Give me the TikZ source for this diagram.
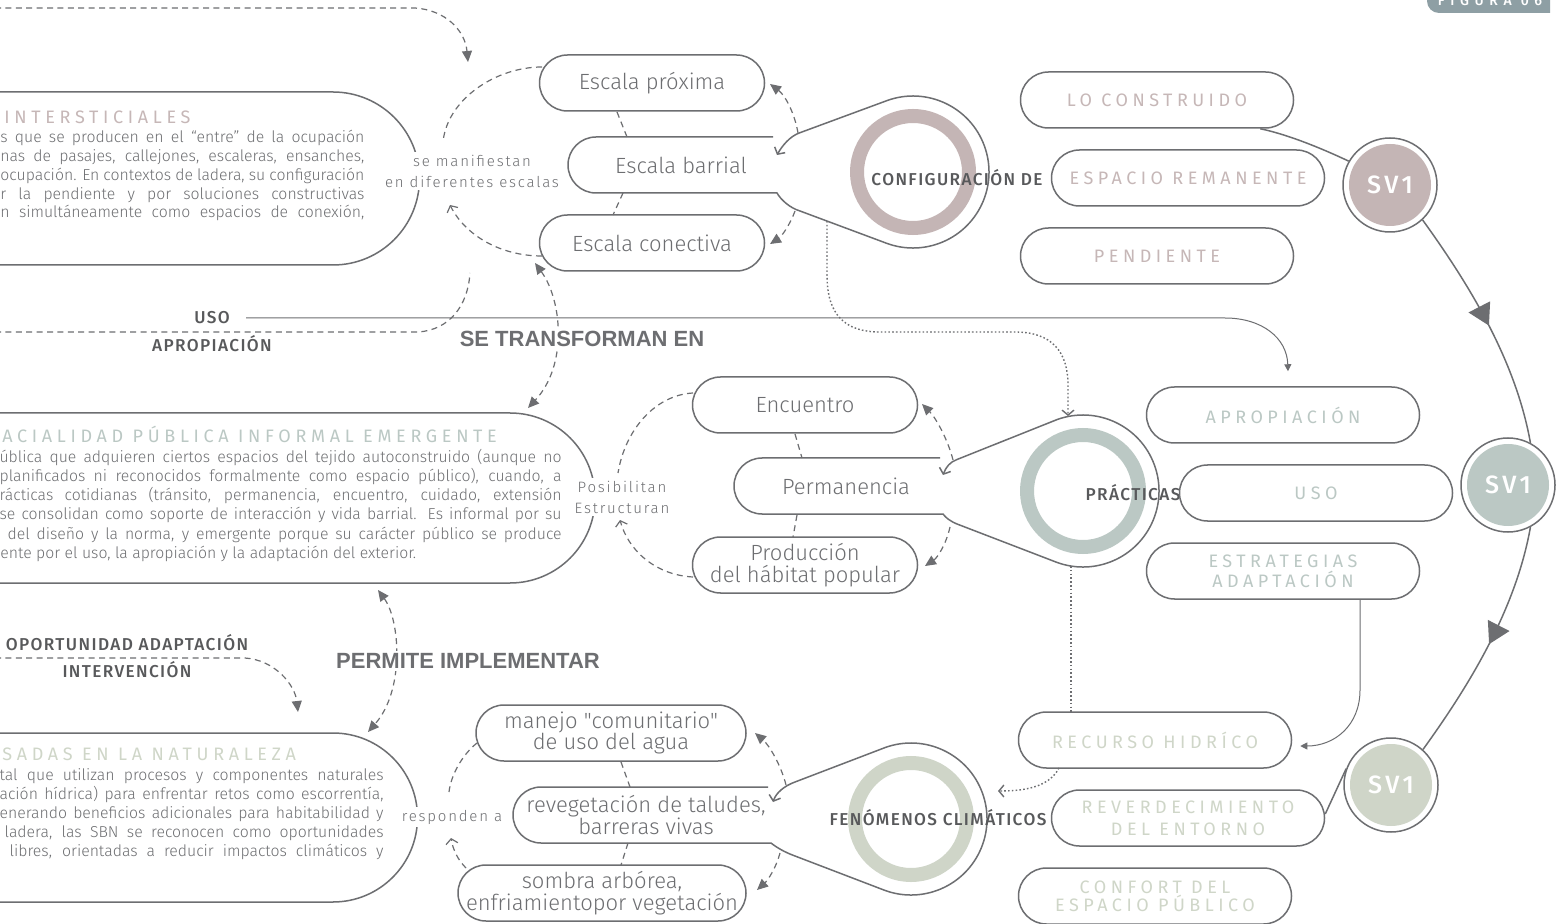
\documentclass[tikz,border=0pt]{standalone}
\usepackage{fontspec}
\usetikzlibrary{arrows.meta,decorations.markings}
\IfFontExistsTF{Fira Sans Light}{\newfontfamily\fl{Fira Sans Light}}{\newfontfamily\fl{Fira Sans}}
\IfFontExistsTF{Fira Sans Medium}{\newfontfamily\fm{Fira Sans Medium}}{\newfontfamily\fm{Fira Sans}}
\newfontfamily\fr{Fira Sans}
\newfontfamily\arl{Liberation Sans}
\definecolor{lg}{HTML}{6D6E71}
\definecolor{tx}{HTML}{6D6E71}
\definecolor{dk}{HTML}{58595B}
\definecolor{pkt}{HTML}{C6B7B7}
\definecolor{sgt}{HTML}{BBC8C4}
\definecolor{olt}{HTML}{CFD6C8}
\definecolor{pkf}{HTML}{C4B5B5}
\definecolor{sgf}{HTML}{BBC8C4}
\definecolor{olf}{HTML}{CFD5C8}
\definecolor{tabc}{HTML}{8E9FA4}
\tikzset{
  ln/.style={draw=lg, line width=0.75pt},
  thinl/.style={draw=lg, line width=0.5pt},
  dsh/.style={draw=lg, line width=0.6pt, dash pattern=on 3pt off 2.2pt},
  dotl/.style={draw=lg, line width=0.7pt, dash pattern=on 0.8pt off 1.1pt},
  fa/.style={-{Triangle[length=5.5pt,width=5pt]}},
  fab/.style={{Triangle[length=5.5pt,width=5pt]}-{Triangle[length=5.5pt,width=5pt]}},
  oa/.style={-{Straight Barb[length=2.5pt,width=6pt]}},
  oar/.style={{Straight Barb[length=2.5pt,width=6pt]}-},
  pill/.style={draw=lg, line width=0.75pt, rounded corners=14pt, minimum height=28pt, inner sep=0pt, align=center, text=tx, font=\fl\fontsize{11}{10.8}\selectfont},
  ptext/.style={inner sep=0pt, align=center, text=tx, font=\fl\fontsize{11}{10.8}\selectfont},
  cpill/.style={pill, minimum width=136.5pt, font=\fr\fontsize{9}{10}\selectfont\addfontfeature{LetterSpace=25}},
  sv/.style={circle, draw=lg, line width=0.75pt, minimum size=47pt, inner sep=0pt, text=white, font=\fm\fontsize{12.5}{13}\selectfont\addfontfeature{LetterSpace=15}, path picture={\fill[#1] (path picture bounding box.center) circle[radius=20.5pt];}},
  lab/.style={inner sep=0pt, text=dk, font=\fm\fontsize{8.6}{9}\selectfont\addfontfeature{LetterSpace=8}},
  midl/.style={inner sep=1.5pt, fill=white, align=center, text=tx, font=\fl\fontsize{7.5}{10.5}\selectfont\addfontfeature{LetterSpace=12}},
  big/.style={inner sep=1pt, fill=white, text=lg, font=\arl\bfseries\fontsize{11}{12}\selectfont},
  ttl/.style={inner sep=0pt, font=\fr\fontsize{9}{10}\selectfont\addfontfeature{LetterSpace=26}},
  body/.style={inner sep=0pt, text=tx, text height=5.6pt, text depth=1.4pt, font=\fl\fontsize{7.9}{9}\selectfont},
}
\begin{document}
\begin{tikzpicture}[x=0.5pt,y=-0.5pt]
\useasboundingbox (0,0) rectangle (1562,924);
\fill[white] (0,0) rectangle (1562,924);

% ---------- figure tab
\fill[tabc] (1550,-20) -- (1550,13) -- (1439,13) arc[start angle=270,end angle=180,radius=6pt] -- (1427,-20) -- cycle;
\node[anchor=base, inner sep=0pt, text=white, font=\fm\fontsize{7}{8}\selectfont\addfontfeature{LetterSpace=40}] (fig) at (1490,6) {FIGURA 06};

% ---------- left blocks
\draw[ln] (-20,92) -- (333,92) arc[start angle=90,end angle=-90,radius=43.25pt] -- (-20,265);
\draw[ln] (-20,413) -- (510,413) arc[start angle=90,end angle=-90,radius=42.5pt] -- (-20,583);
\draw[ln] (-20,733) -- (333,733) arc[start angle=90,end angle=-90,radius=42.25pt] -- (-20,902);

\node[ttl, text=pkt, anchor=west] (ta) at (4,117) {INTERSTICIALES};
\node[body, anchor=west] (a1) at (0,138) {\makebox[182pt][s]{s que se producen en el “entre” de la ocupación}};
\node[body, anchor=west] (a2) at (0,157) {\makebox[182pt][s]{nas de pasajes, callejones, escaleras, ensanches,}};
\node[body, anchor=west] (a3) at (0,176) {\makebox[182pt][s]{ocupación. En contextos de ladera, su configuración}};
\node[body, anchor=west] (a4) at (0,195) {\makebox[182pt][s]{r la pendiente y por soluciones constructivas}};
\node[body, anchor=west] (a5) at (0,213) {\makebox[182pt][s]{n simultáneamente como espacios de conexión,}};

\node[ttl, text=sgt, anchor=west] (tb) at (2,434) {ACIALIDAD PÚBLICA INFORMAL EMERGENTE};
\node[body, anchor=east] (b1) at (562,458) {\makebox[281pt][s]{ública que adquieren ciertos espacios del tejido autoconstruido (aunque no}};
\node[body, anchor=east] (b2) at (562,477) {\makebox[281pt][s]{planificados ni reconocidos formalmente como espacio público), cuando, a}};
\node[body, anchor=east] (b3) at (562,496) {\makebox[281pt][s]{rácticas cotidianas (tránsito, permanencia, encuentro, cuidado, extensión}};
\node[body, anchor=east] (b4) at (562,515) {\makebox[281pt][s]{se consolidan como soporte de interacción y vida barrial. Es informal por su}};
\node[body, anchor=east] (b5) at (562,535) {\makebox[277pt][s]{del diseño y la norma, y emergente porque su carácter público se produce}};
\node[body, anchor=west] (b6) at (0,554) {ente por el uso, la apropiación y la adaptación del exterior.};

\node[ttl, text=olt, anchor=west] (tc) at (2,754) {SADAS EN LA NATURALEZA};
\node[body, anchor=east] (c1) at (384,776) {\makebox[192pt][s]{tal que utilizan procesos y componentes naturales}};
\node[body, anchor=east] (c2) at (384,795) {\makebox[192pt][s]{ación hídrica) para enfrentar retos como escorrentía,}};
\node[body, anchor=east] (c3) at (384,814) {\makebox[192pt][s]{enerando beneficios adicionales para habitabilidad y}};
\node[body, anchor=east] (c4) at (384,833) {\makebox[189.5pt][s]{ladera, las SBN se reconocen como oportunidades}};
\node[body, anchor=east] (c5) at (384,852) {\makebox[187pt][s]{libres, orientadas a reducir impactos climáticos y}};

% ---------- USO / APROPIACION
\node[lab] (uso) at (212,318) {USO};
\node[lab] (apro) at (212,344) {APROPIACIÓN};
\draw[dsh] (-5,332) -- (418,332) .. controls (450,330) and (468,305) .. (470,273);

\node[lab] (opo) at (127,643) {OPORTUNIDAD ADAPTACIÓN};
\node[lab] (inter) at (127,670) {INTERVENCIÓN};
\draw[dsh, fa] (-5,658) -- (245,658) .. controls (275,660) and (295,685) .. (298,712);

% ---------- top dashed
\draw[dsh, fa] (-5,8) -- (415,8) .. controls (445,10) and (465,30) .. (468,62);

% ---------- escala group
\node[pill, minimum width=112.5pt] (prox) at (652,83) {Escala próxima};
\node[pill, minimum width=112.5pt] (conec) at (652,243) {Escala conectiva};
\node[ptext] (bar) at (681,165) {Escala barrial};
\coordinate (cfgc) at (913,172);
\draw[pkf, line width=7pt] (cfgc) circle[radius=28pt];
\draw[ln, oar] (777,155) .. controls (782,146) and (790,136) .. (800,132.7) -- (887,100.6) arc[start angle=110,end angle=-110,radius=38pt] -- (800,211) .. controls (790,208) and (781,200) .. (777,193) -- (596,193) arc[start angle=270,end angle=90,radius=14pt] -- (773,137);
\node[lab] (cfgl) at (957,178) {CONFIGURACIÓN DE};

\draw[dsh] (542,67) .. controls (495,67) and (447,100) .. (443,142);
\draw[dsh, oa] (542,256) .. controls (500,256) and (465,235) .. (450,205);
\draw[dsh, fa] (798,133) .. controls (795,115) and (786,96) .. (770,84);
\draw[dsh, fa] (795,211) .. controls (790,225) and (781,237) .. (770,244);
\draw[dsh] (617,112) -- (627,137);
\draw[dsh] (623,193) -- (613,215);
\node[midl] (sm) at (472,171) {se manifiestan\\en diferentes escalas};

% ---------- SE TRANSFORMAN
\draw[dsh, fab] (535,263) .. controls (562,300) and (568,365) .. (528,408);
\node[big] (set) at (582,339) {SE TRANSFORMAN EN};

% ---------- practicas group
\node[pill, minimum width=112.5pt] (enc) at (805,405) {Encuentro};
\node[pill, minimum width=112.5pt] (prod) at (805,565) {Producción\\del hábitat popular};
\node[ptext] (perm) at (846,486) {Permanencia};
\coordinate (prc) at (1083,491);
\draw[sgf, line width=7pt] (prc) circle[radius=28pt];
\draw[ln, oar] (943,475) .. controls (946,467) and (950,462) .. (957,459.5) -- (1057,419.6) arc[start angle=110,end angle=-110,radius=38pt] -- (957,524) .. controls (950,521) and (946,518) .. (943,514) -- (762,514) arc[start angle=270,end angle=90,radius=14pt] -- (940,458);
\node[lab] (prl) at (1133,493) {PRÁCTICAS};

\draw[dsh] (693,393) .. controls (655,395) and (625,430) .. (618,473);
\draw[dsh, oa] (693,577) .. controls (655,575) and (628,550) .. (620,520);
\draw[dsh, fa] (953,460) .. controls (948,440) and (936,418) .. (922,404);
\draw[dsh, fa] (950,527) .. controls (946,545) and (937,558) .. (925,566);
\draw[dsh] (795,434) -- (802,458);
\draw[dsh] (797,515) -- (793,537);
\node[midl] (pos) at (622,497) {Posibilitan\\Estructuran};

% ---------- PERMITE
\draw[dsh, fab] (378,590) .. controls (400,620) and (405,690) .. (368,732);
\node[big] (pim) at (468,661) {PERMITE IMPLEMENTAR};

% ---------- fenomenos group
\node[pill, minimum width=135pt] (man) at (611,733) {manejo "comunitario"\\de uso del agua};
\node[pill, minimum width=144pt] (som) at (602,893) {sombra arbórea,\\enfriamientopor vegetación};
\node[ptext] (rev) at (646,815) {revegetación de taludes,\\barreras vivas};
\coordinate (fnc) at (911,819);
\draw[olf, line width=7pt] (fnc) circle[radius=28pt];
\draw[ln, oar] (773,802) .. controls (776,793) and (784,786) .. (795,782) -- (885,747.6) arc[start angle=110,end angle=-110,radius=38pt] -- (795,856) .. controls (784,852) and (776,847) .. (771,843) -- (541,843) arc[start angle=270,end angle=90,radius=14pt] -- (768,787);
\node[lab] (fenl) at (938,818) {FENÓMENOS CLIMÁTICOS};

\draw[dsh] (477,743) .. controls (462,755) and (451,775) .. (449,792);
\draw[dsh, oa] (466,868) .. controls (458,860) and (453,850) .. (451,838);
\draw[dsh, fa] (786,785) .. controls (781,765) and (769,745) .. (755,733);
\draw[dsh, fa] (780,853) .. controls (776,868) and (768,880) .. (757,890);
\draw[dsh] (621,762) -- (630,787);
\draw[dsh] (628,843) -- (621,865);
\node[midl] (resp) at (452,817) {responden a};

% ---------- right pills
\node[cpill, text=pkt] (lo) at (1157,100) {LO CONSTRUIDO};
\node[cpill, text=pkt] (esp) at (1188,178) {ESPACIO REMANENTE};
\node[cpill, text=pkt] (pen) at (1157,256) {PENDIENTE};
\node[cpill, text=sgt] (apr) at (1283,415) {APROPIACIÓN};
\node[cpill, text=sgt] (uso2) at (1316,493) {USO};
\node[cpill, text=sgt] (est) at (1283,571) {ESTRATEGIAS\\ADAPTACIÓN};
\node[cpill, text=olt] (rec) at (1155,740) {RECURSO HIDRÍCO};
\node[cpill, text=olt, font=\fr\fontsize{9}{11}\selectfont\addfontfeature{LetterSpace=25}] (revd) at (1188,818) {REVERDECIMIENTO\\DEL ENTORNO};
\node[cpill, text=olt, font=\fr\fontsize{9}{9}\selectfont\addfontfeature{LetterSpace=25}] (conf) at (1155,896) {CONFORT DEL\\ESPACIO PÚBLICO};

% ---------- SV1 circles
\node[sv=pkf] (sv1a) at (1390,185) {SV1};
\node[sv=sgf] (sv1b) at (1508,485) {SV1};
\node[sv=olf] (sv1c) at (1391,785) {SV1};

\draw[ln] ([xshift=-17pt]lo.south east) .. controls (1290,135) and (1325,150) .. (sv1a.150);
\draw[ln] ([yshift=2pt]revd.east) -- (sv1c.160);
\draw[ln, postaction={decorate}, decoration={markings, mark=at position 0.5 with {\arrow{Triangle[length=10.5pt,width=12pt]}}}] (sv1a.-47) .. controls (1471,287) and (1516,362) .. (sv1b.62);
\draw[ln, postaction={decorate}, decoration={markings, mark=at position 0.5 with {\arrow{Triangle[length=10.5pt,width=12pt]}}}] (sv1b.-62) .. controls (1516,608) and (1471,683) .. (sv1c.48);

% ---------- thin solid arrows
\draw[thinl, -{Triangle[length=3.5pt,width=3.5pt]}] ([xshift=8pt]uso.east) -- (1225,318) .. controls (1262,318) and (1287,338) .. ([xshift=2.5pt,yshift=7.5pt]apr.north);
\draw[thinl, -{Triangle[length=3.5pt,width=3.5pt]}] ([xshift=38.5pt]est.south) -- (1360,690) .. controls (1360,725) and (1335,746) .. ([xshift=4pt,yshift=-3pt]rec.east);

% ---------- dotted
\coordinate (d1) at (827,221);
\coordinate (d2) at (1068,416);
\draw[dotl, oa] (d1) -- (827,275) .. controls (827,315) and (845,332) .. (880,332) -- (1015,332) .. controls (1052,332) and (1068,352) .. (1068,385) -- (d2);
\coordinate (d3) at (1071,566);
\coordinate (d4) at (1071,712);
\draw[dotl] (d3) -- (d4);
\coordinate (d5) at (1059,768);
\coordinate (d6) at (998,791);
\draw[dotl, oa] (d5) .. controls (1050,785) and (1030,791) .. (d6);
\end{tikzpicture}
\end{document}
